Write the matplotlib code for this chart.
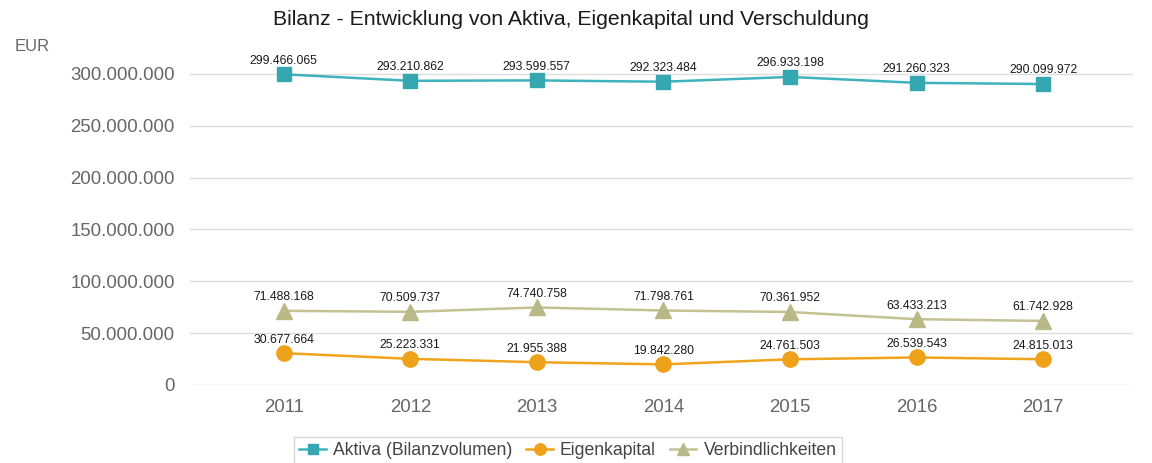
import matplotlib.pyplot as plt
from matplotlib.ticker import FuncFormatter

# Data
years = ["2011", "2012", "2013", "2014", "2015", "2016", "2017"]
aktiva = [299466065, 293210862, 293599557, 292323484, 296933198, 291260323, 290099972]
eigenkapital = [30677664, 25223331, 21955388, 19842280, 24761503, 26539543, 24815013]
verbindlichkeiten = [71488168, 70509737, 74740758, 71798761, 70361952, 63433213, 61742928]

plt.rcParams['font.family'] = ['Liberation Sans', 'DejaVu Sans']


def de_fmt(v):
    return f"{int(round(v)):,}".replace(",", ".")


fig = plt.figure(figsize=(11.52, 4.63), dpi=100)
ax = fig.add_axes([0.165, 0.1685, 0.8185, 0.717])

x = list(range(len(years)))
series = [
    ("Aktiva (Bilanzvolumen)", aktiva, "#3fb3bd", "#35a7b1", "s", 10.5),
    ("Eigenkapital", eigenkapital, "#f0a31c", "#eea21a", "o", 11),
    ("Verbindlichkeiten", verbindlichkeiten, "#c2c292", "#b9b988", "^", 11),
]
for name, vals, lc, mc, mk, ms in series:
    ax.plot(x, vals, color=lc, lw=1.8, marker=mk, markersize=ms,
            markerfacecolor=mc, markeredgecolor=mc, label=name, zorder=3)
    for xi, v in zip(x, vals):
        ax.annotate(de_fmt(v), (xi, v), xytext=(0, 5.5), textcoords="offset points",
                    ha="center", va="bottom", fontsize=8.8, color="#1a1a1a")

ax.set_xlim(-0.74, 6.71)
ax.set_ylim(0, 320000000)
ax.set_yticks(range(0, 300000001, 50000000))
ax.yaxis.set_major_formatter(FuncFormatter(lambda v, p: de_fmt(v)))
ax.set_xticks(x)
ax.set_xticklabels(years)
ax.tick_params(axis="both", length=0, labelsize=13.4, colors="#666666")
ax.tick_params(axis="y", pad=11)
ax.tick_params(axis="x", pad=10)
ax.grid(axis="y", color="#dddddd", lw=1)
ax.set_axisbelow(True)
for s in ax.spines.values():
    s.set_visible(False)

fig.text(0.496, 0.957, "Bilanz - Entwicklung von Aktiva, Eigenkapital und Verschuldung",
         ha="center", va="center", fontsize=15.3, color="#1a1a1a")
fig.text(0.013, 0.9, "EUR", ha="left", va="center", fontsize=12, color="#666666")

leg = fig.legend(loc="center", bbox_to_anchor=(0.493, 0.026), ncol=3, frameon=True,
                 fontsize=12.7, handlelength=1.5, handletextpad=0.4, columnspacing=0.8,
                 borderpad=0.3, fancybox=False, markerscale=0.75)
leg.get_frame().set_edgecolor("#cccccc")
for t in leg.get_texts():
    t.set_color("#444444")

fig.savefig("out.png", dpi=100)
